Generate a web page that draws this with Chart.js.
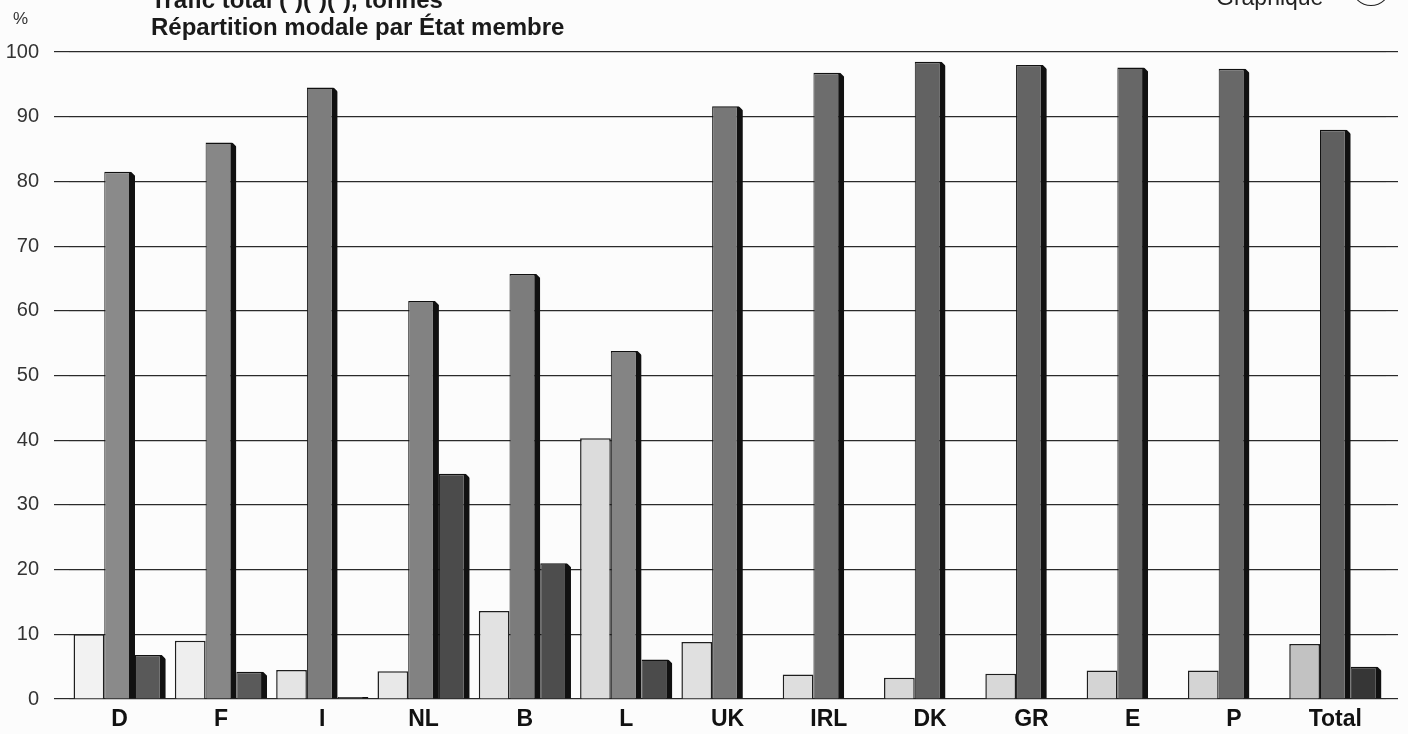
<!DOCTYPE html>
<html lang="fr">
<head>
<meta charset="utf-8">
<title>Répartition modale par État membre</title>
<script src="https://cdn.jsdelivr.net/npm/chart.js@4.4.0/dist/chart.umd.min.js"></script>
<style>
  html, body { margin: 0; padding: 0; background: #fcfcfc; }
  body {
    width: 1408px; height: 734px; position: relative; overflow: hidden;
    font-family: "Liberation Sans", Arial, sans-serif; color: #1a1a1a;
  }
  #grafico { position: absolute; left: 0; top: 0; }
  .titulo { position: absolute; left: 151px; font-weight: bold; font-size: 24px; white-space: nowrap; line-height: 1; }
  #t1 { top: -12px; }
  #t2 { top: 15px; }
  #porcentaje { position: absolute; left: 13px; top: 9px; font-size: 17px; color: #333; }
  #graphique { position: absolute; left: 1216px; top: -14px; font-size: 23px; color: #222; line-height: 1; }
  #circulo { position: absolute; left: 1352px; top: -30px; width: 36px; height: 34px; border: 1.5px solid #222; border-radius: 50%; }
</style>
</head>
<body>
<canvas id="grafico" width="1408" height="734"></canvas>
<div class="titulo" id="t1">Trafic total (¹)(²)(³), tonnes</div>
<div class="titulo" id="t2">Répartition modale par État membre</div>
<div id="porcentaje">%</div>
<div id="graphique">Graphique</div>
<div id="circulo"></div>
<script>
// datos (%)
const paises = ["D", "F", "I", "NL", "B", "L", "UK", "IRL", "DK", "GR", "E", "P", "Total"];
const ferrocarril = [10, 9, 4.5, 4.3, 13.6, 40.3, 8.8, 3.8, 3.3, 3.9, 4.4, 4.4, 8.5];
const carretera = [81.5, 86, 94.5, 61.5, 65.7, 53.8, 91.6, 96.8, 98.5, 98, 97.6, 97.4, 88];
const fluvial = [6.8, 4.2, 0.3, 34.8, 21, 6.1, null, null, null, null, null, null, 5];
const marcasY = [0, 10, 20, 30, 40, 50, 60, 70, 80, 90, 100];

// tonos de gris por grupo (el escaneo oscurece hacia la derecha)
const tonosClaro = ['#f2f2f2','#eeeeee','#e4e4e4','#e8e8e8','#e2e2e2','#dcdcdc','#e0e0e0','#dedede','#d8d8d8','#d8d8d8','#d4d4d4','#d4d4d4','#c2c2c2'];
const tonosMedio = ['#8a8a8a','#878787','#7d7d7d','#828282','#7c7c7c','#848484','#777777','#6d6d6d','#626262','#646464','#676767','#686868','#5f5f5f'];
const tonosOscuro = ['#595959','#5a5a5a','#505050','#4b4b4b','#4d4d4d','#4b4b4b','#444','#444','#444','#444','#444','#444','#363636'];

const LINEA = '#2a2a2a';
const FONDO = '#fcfcfc';

// corta la esquina de arriba a la derecha (efecto 3D del original)
const bisel = {
  id: 'bisel',
  afterDatasetsDraw(chart) {
    const c = chart.ctx;
    c.save();
    c.fillStyle = FONDO;
    [1, 2].forEach(i => {
      const valores = chart.data.datasets[i].data;
      chart.getDatasetMeta(i).data.forEach((bar, j) => {
        if (valores[j] == null || !(bar.height >= 8)) return;
        const xr = bar.x + bar.width / 2;
        c.beginPath();
        c.moveTo(xr - 5, bar.y - 1);
        c.lineTo(xr + 0.5, bar.y - 1);
        c.lineTo(xr + 0.5, bar.y + 4.5);
        c.closePath();
        c.fill();
      });
    });
    c.restore();
  }
};

new Chart(document.getElementById('grafico'), {
  type: 'bar',
  data: {
    labels: paises,
    datasets: [
      {
        label: 'Rail',
        data: ferrocarril,
        backgroundColor: tonosClaro,
        borderColor: '#1e1e1e',
        borderWidth: { top: 1.5, left: 1.5, right: 1.5, bottom: 0 },
        borderSkipped: false
      },
      {
        label: 'Route',
        data: carretera,
        backgroundColor: tonosMedio,
        borderColor: '#111',
        borderWidth: { top: 1.5, left: 1, right: 6, bottom: 0 },
        borderSkipped: false
      },
      {
        label: 'Voies navigables',
        data: fluvial,
        backgroundColor: tonosOscuro,
        borderColor: '#111',
        borderWidth: { top: 1.5, left: 1, right: 6, bottom: 0 },
        borderSkipped: false
      }
    ]
  },
  options: {
    responsive: false,
    animation: false,
    devicePixelRatio: 1,
    layout: { padding: { top: 52, left: 0, right: 0, bottom: 0 } },
    datasets: { bar: { categoryPercentage: 0.91, barPercentage: 1 } },
    plugins: { legend: { display: false }, tooltip: { enabled: false } },
    scales: {
      x: {
        grid: { display: false },
        border: { display: false },
        ticks: { color: '#111', font: { family: 'Liberation Sans', size: 23, weight: 'bold' }, padding: -1 },
        afterFit: s => { s.height = 35; }
      },
      y: {
        min: 0, max: 100,
        afterBuildTicks: s => { s.ticks = marcasY.map(v => ({ value: v })); },
        grid: { color: LINEA, lineWidth: 1.2, tickLength: 15 },
        border: { display: false },
        ticks: { color: '#333', font: { family: 'Liberation Sans', size: 20 }, padding: 15 },
        afterFit: s => { s.width = 69; }
      },
      // eje derecho solo para prolongar las lineas de la rejilla
      y2: {
        position: 'right',
        min: 0, max: 100,
        afterBuildTicks: s => { s.ticks = marcasY.map(v => ({ value: v })); },
        grid: { color: LINEA, lineWidth: 1.2, tickLength: 12, drawOnChartArea: false },
        border: { display: false },
        ticks: { display: false },
        afterFit: s => { s.width = 22; }
      }
    }
  },
  plugins: [bisel]
});
</script>
</body>
</html>
